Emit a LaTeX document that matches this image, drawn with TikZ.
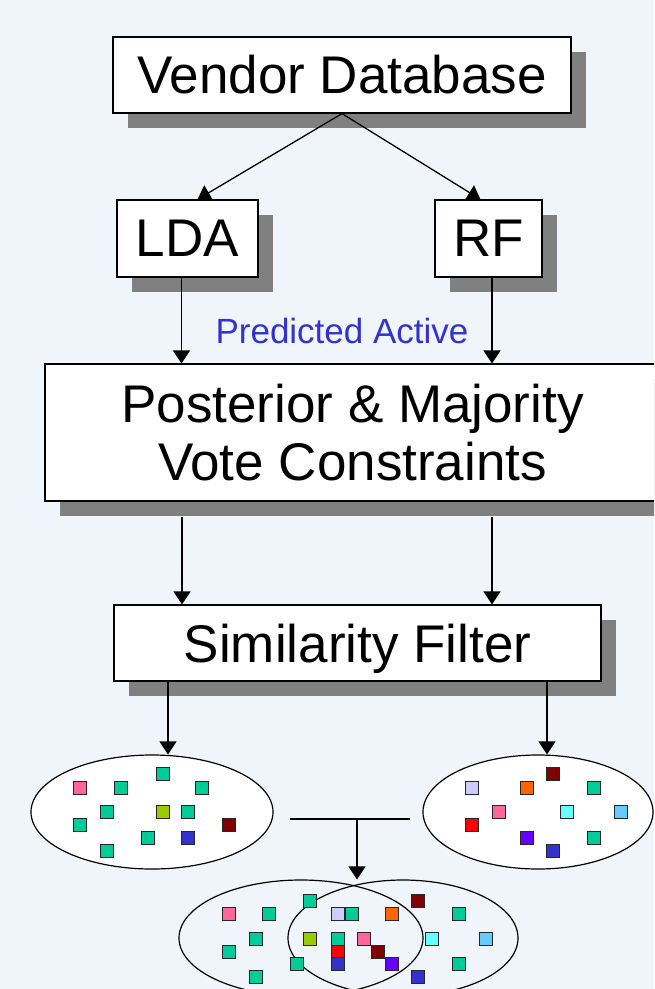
\documentclass[tikz,border=0pt]{standalone}
\usepackage{fontspec}
\setmainfont{Liberation Sans}
\usetikzlibrary{positioning, arrows.meta, shapes.geometric, shadows}

\definecolor{pagebg}{RGB}{240,245,252}
\definecolor{activeblue}{RGB}{51,51,204}
\definecolor{teal}{RGB}{0,204,153}
\definecolor{pinky}{RGB}{255,102,153}
\definecolor{lime}{RGB}{153,204,0}
\definecolor{maroon}{RGB}{128,0,0}
\definecolor{navy}{RGB}{51,51,204}
\definecolor{lavender}{RGB}{204,204,255}
\definecolor{orangy}{RGB}{255,102,0}
\definecolor{aqua}{RGB}{102,255,255}
\definecolor{sky}{RGB}{102,204,255}
\definecolor{reddy}{RGB}{255,0,0}
\definecolor{violet}{RGB}{102,0,255}

\begin{document}
\begin{tikzpicture}[x=1pt, y=-1pt, >={Triangle[length=13pt,width=17pt]},
  box/.style={draw, line width=1.2pt, fill=white, inner sep=0pt, align=center,
    font=\fontsize{53}{58}\selectfont,
    drop shadow={shadow xshift=15pt, shadow yshift=-15pt, fill=black!50, opacity=1}},
  blob/.style={ellipse, draw, line width=1.2pt, inner sep=0pt},
  sq/.style={draw=black!85, line width=1.3pt, minimum size=13pt, inner sep=0pt},
  link/.style={->, line width=1.3pt}]

  \useasboundingbox (0,0) rectangle (654,989);
  \fill[pagebg] (0,0) rectangle (654,989);
  \clip (0,0) rectangle (654,989);

  % boxes
  \node[box, minimum width=458pt, minimum height=76pt] (vendor) at (342,75) {Vendor Database};
  \node[box, minimum width=141pt, minimum height=77pt] (lda) at (187.5,238.5) {LDA};
  \node[box, minimum width=107pt, minimum height=77pt] (rf) at (488.5,238.5) {RF};
  \node[box, minimum width=615pt, minimum height=137pt] (post) at (352.5,432.5) {Posterior \& Majority\\Vote Constraints};
  \node[box, minimum width=487pt, minimum height=76pt, text depth=0pt] (sim) at (357.5,643) {Similarity Filter};
  \node[text=activeblue, font=\fontsize{35}{40}\selectfont] (pred) at (342,331) {Predicted Active};

  % sets
  \node[blob, fill=white, minimum width=242pt, minimum height=114pt] (lset) at (152,812) {};
  \node[blob, fill=white, minimum width=230pt, minimum height=114pt] (rset) at (538,812) {};
  \node[blob, minimum width=244pt, minimum height=116pt] (bleft) at (301,938) {};
  \node[blob, minimum width=230pt, minimum height=116pt] (bright) at (403,938) {};

  % connectors
  \draw[link] (vendor.south) -- ([xshift=10pt]lda.north);
  \draw[link] (vendor.south) -- ([xshift=-8pt]rf.north);
  \draw[link] ([xshift=-6pt]lda.south) -- ([xshift=-6pt]lda.south |- post.north);
  \draw[link] ([xshift=3.5pt]rf.south) -- ([xshift=3.5pt]rf.south |- post.north);
  \coordinate (pl) at (182,517);
  \coordinate (pr) at (492,517);
  \draw[link] (pl) -- (pl |- sim.north);
  \draw[link] (pr) -- (pr |- sim.north);
  \draw[link] ([xshift=16pt]lset.north |- sim.south) -- ([xshift=16pt]lset.north);
  \draw[link] ([xshift=9pt]rset.north |- sim.south) -- ([xshift=9pt]rset.north);
  \coordinate (ml) at (290,819);
  \coordinate (mr) at (410,819);
  \coordinate (mm) at (357,819);
  \draw[line width=1.3pt] (ml) -- (mr);
  \draw[link] (mm) -- (mm |- bleft.north);

  % members
  \foreach \x/\y/\c [count=\i] in {80/788/pinky, 121/788/teal, 163/774/teal, 202/788/teal,
      107/812/teal, 163/812/lime, 188/812/teal, 229/825/maroon, 80/825/teal,
      148/838/teal, 188/838/navy, 107/851/teal}
    \node[sq, fill=\c] (l\i) at (\x,\y) {};
  \foreach \x/\y/\c [count=\i] in {472/788/lavender, 527/788/orangy, 553/774/maroon, 594/788/teal,
      499/812/pinky, 567/812/aqua, 621/812/sky, 472/825/reddy,
      527/838/violet, 594/838/teal, 553/851/navy}
    \node[sq, fill=\c] (r\i) at (\x,\y) {};
  \foreach \x/\y/\c [count=\i] in {229/914/pinky, 269/914/teal, 310/901/teal, 338/914/lavender,
      352/914/teal, 392/914/orangy, 418/901/maroon, 459/914/teal,
      256/939/teal, 310/939/lime, 338/939/teal, 364/939/pinky, 432/939/aqua, 486/939/sky,
      229/952/teal, 338/952/reddy, 378/952/maroon,
      297/964/teal, 338/964/navy, 392/964/violet, 459/964/teal,
      256/977/teal, 418/977/navy}
    \node[sq, fill=\c] (b\i) at (\x,\y) {};
\end{tikzpicture}
\end{document}
